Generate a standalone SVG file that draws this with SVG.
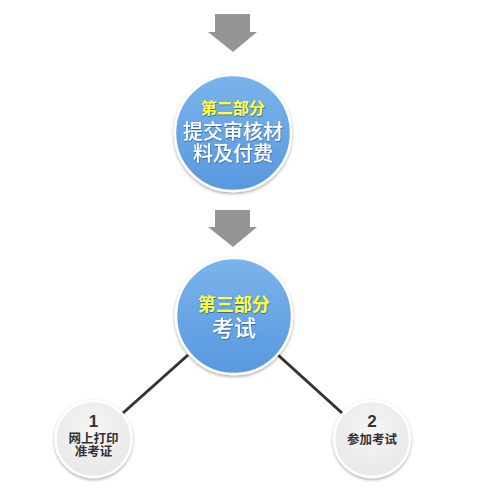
<svg xmlns="http://www.w3.org/2000/svg" width="493" height="492" viewBox="0 0 493 492">
<defs>
<linearGradient id="blue" x1="0" y1="0" x2="0" y2="1">
<stop offset="0" stop-color="#7ab4ec"/>
<stop offset="1" stop-color="#5898de"/>
</linearGradient>
<radialGradient id="grey" cx="0.5" cy="0.4" r="0.6">
<stop offset="0" stop-color="#f6f6f6"/>
<stop offset="1" stop-color="#e8e8e8"/>
</radialGradient>
<filter id="sh" x="-20%" y="-20%" width="140%" height="140%">
<feDropShadow dx="0" dy="1.5" stdDeviation="1.5" flood-color="#000" flood-opacity="0.35"/>
</filter>
<filter id="tsh" x="-10%" y="-10%" width="120%" height="130%">
<feDropShadow dx="0.5" dy="1" stdDeviation="0.6" flood-color="#1f4f8a" flood-opacity="0.7"/>
</filter>
</defs>
<style>
.arrow{fill:#959595}
.big{fill:url(#blue);stroke:#fff;stroke-width:2.5;filter:url(#sh)}
.small{fill:url(#grey);stroke:#fff;stroke-width:2.5;filter:url(#sh)}
.hd{font-family:"Noto Sans CJK SC",sans-serif;font-weight:bold;fill:#ffff33;text-anchor:middle;filter:url(#tsh)}
.wt{font-family:"Noto Sans CJK SC",sans-serif;font-weight:500;fill:#fff;text-anchor:middle;filter:url(#tsh)}
.num{font-family:"Liberation Sans",sans-serif;font-weight:bold;font-size:17px;fill:#333;text-anchor:middle}
.lb{font-family:"Noto Sans CJK SC",sans-serif;font-weight:bold;font-size:12.5px;fill:#333;text-anchor:middle}
.conn{stroke:#333;stroke-width:3;fill:none}
</style>
<rect width="493" height="492" fill="#fff"/>
<g id="connectors">
<polygon class="arrow" points="215,14 250,14 250,32 257,32 233,52 208,32 215,32"/>
<polygon class="arrow" points="215,210 250,210 250,227 257,227 233,247 208,227 215,227"/>
<line class="conn" x1="188" y1="355" x2="123" y2="413"/>
<line class="conn" x1="278" y1="355" x2="342" y2="413"/>
</g>
<g id="node-part2">
<circle class="big" cx="233" cy="133" r="58"/>
<text x="233" y="114" text-anchor="middle"><tspan class="hd" x="233" font-size="16">第二部分</tspan><tspan class="wt" x="233" dy="25" font-size="20">提交审核材</tspan><tspan class="wt" x="233" dy="22" font-size="20">料及付费</tspan></text>
</g>
<g id="node-part3">
<circle class="big" cx="234" cy="316" r="58"/>
<text x="234" y="311" text-anchor="middle"><tspan class="hd" x="234" font-size="18">第三部分</tspan><tspan class="wt" x="234" dy="25" font-size="22">考试</tspan></text>
</g>
<g id="node-1">
<circle class="small" cx="93.5" cy="439" r="38"/>
<text x="93.5" y="427" text-anchor="middle"><tspan class="num" x="93.5">1</tspan><tspan class="lb" x="93.5" dy="16">网上打印</tspan><tspan class="lb" x="93.5" dy="13">准考证</tspan></text>
</g>
<g id="node-2">
<circle class="small" cx="372" cy="439" r="38"/>
<text x="372" y="427" text-anchor="middle"><tspan class="num" x="372">2</tspan><tspan class="lb" x="372" dy="17">参加考试</tspan></text>
</g>
</svg>
